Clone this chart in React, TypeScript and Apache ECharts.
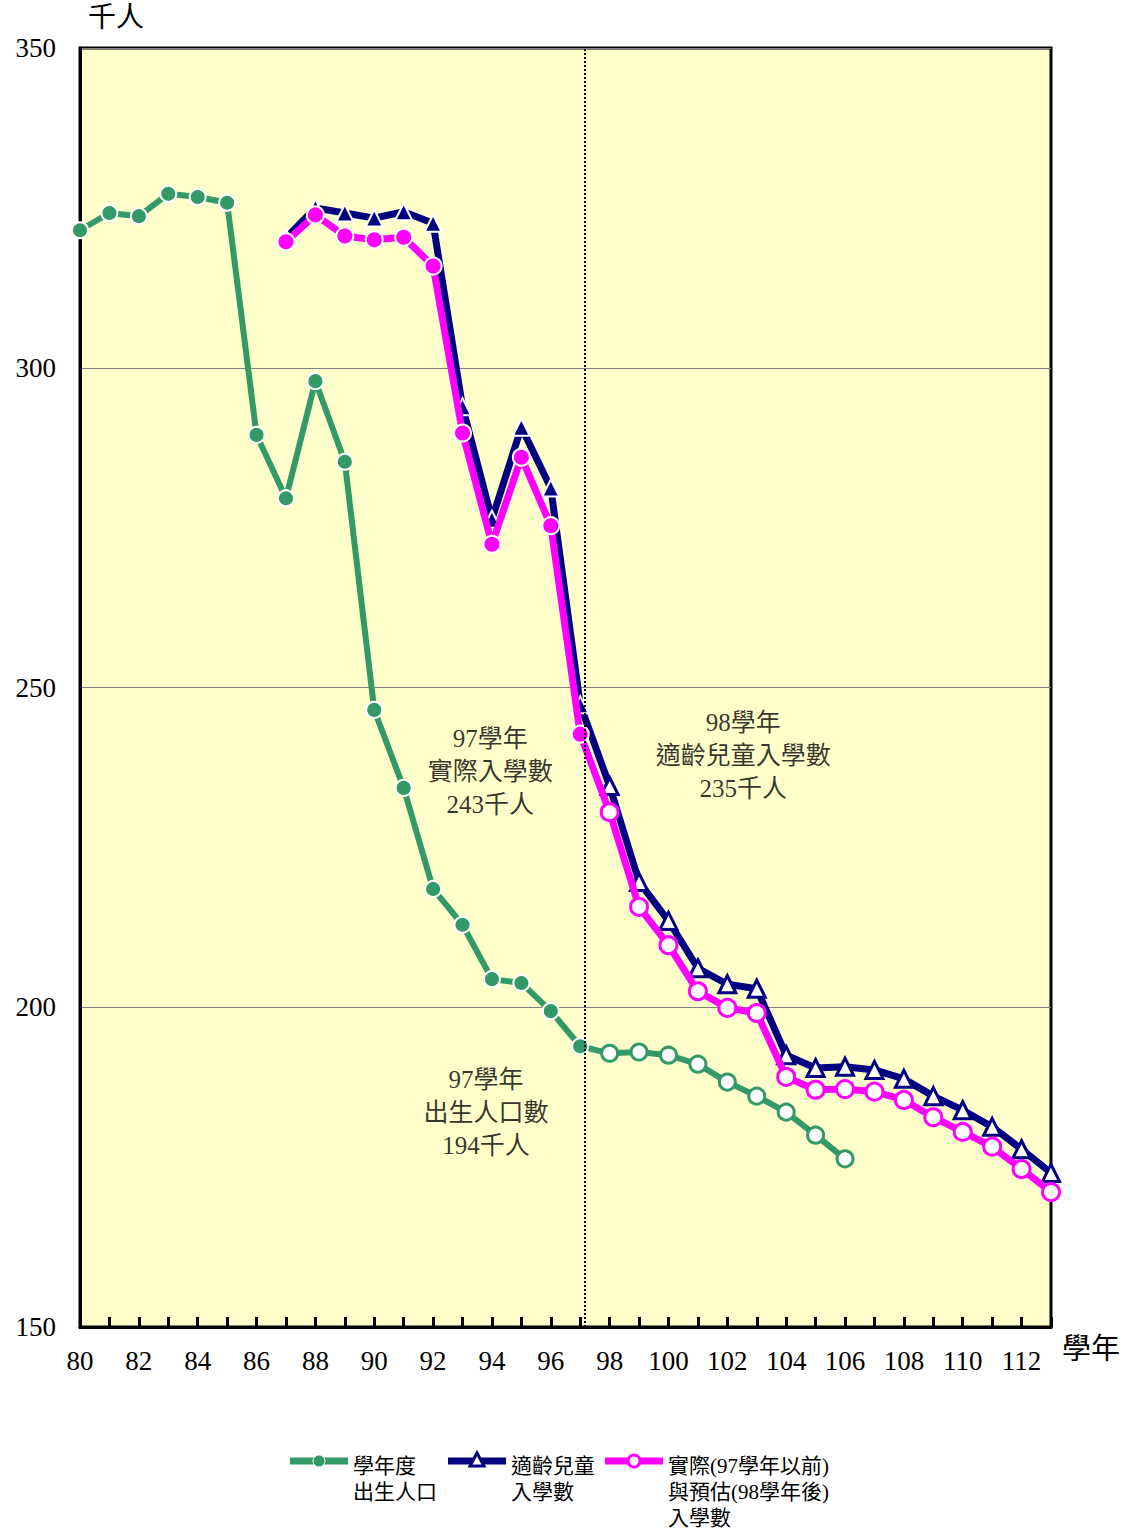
import React, { useEffect, useRef } from 'react';
import * as echarts from 'echarts';

const birthYears = [80, 81, 82, 83, 84, 85, 86, 87, 88, 89, 90, 91, 92, 93, 94, 95, 96, 97, 98, 99, 100, 101, 102, 103, 104, 105, 106];
const birthPop = [321.5, 324.2, 323.7, 327.2, 326.7, 325.8, 289.5, 279.6, 297.9, 285.3, 246.5, 234.3, 218.5, 212.9, 204.4, 203.8, 199.4, 193.9, 192.8, 193.0, 192.5, 191.1, 188.3, 186.1, 183.6, 180.0, 176.3];
const enrollYears = [87, 88, 89, 90, 91, 92, 93, 94, 95, 96, 97, 98, 99, 100, 101, 102, 103, 104, 105, 106, 107, 108, 109, 110, 111, 112, 113];
const ageEligible = [320.3, 325.0, 324.2, 323.4, 324.4, 322.6, 293.9, 276.3, 290.7, 281.2, 247.3, 234.6, 219.6, 213.5, 206.1, 203.6, 202.9, 192.5, 190.5, 190.7, 190.2, 188.8, 186.1, 183.9, 181.3, 177.8, 174.1];
const actualEnroll = [319.7, 323.9, 320.6, 320.0, 320.4, 315.9, 289.8, 272.4, 286.0, 275.3, 242.7, 230.5, 215.7, 209.7, 202.5, 199.9, 199.1, 189.1, 187.1, 187.2, 186.8, 185.5, 182.8, 180.5, 178.2, 174.7, 171.1];
const lastActualYear = 97;
const dividerYear = 97.17;

const seriesNames = ['學年度出生人口', '適齡兒童入學數', '實際與預估入學數'];
const legendLabels = [['學年度', '出生人口'], ['適齡兒童', '入學數'], ['實際(97學年以前)', '與預估(98學年後)', '入學數']];
const annotations = [
  { lines: ['97學年', '實際入學數', '243千人'], year: 93.94, value: 236.9 },
  { lines: ['98學年', '適齡兒童入學數', '235千人'], year: 102.54, value: 239.4 },
  { lines: ['97學年', '出生人口數', '194千人'], year: 93.8, value: 183.6 },
];

const GREEN = '#339966';
const NAVY = '#000080';
const MAGENTA = '#FF00FF';
const FONT = "'Liberation Serif', 'Noto Sans CJK TC', serif";

function points(xs: number[], ys: number[], color: string) {
  return xs.map((x, i) => ({
    value: [x, ys[i]],
    itemStyle: x <= lastActualYear
      ? { color, borderColor: '#ffffff', borderWidth: 2 }
      : { color: '#ffffff', borderColor: color, borderWidth: 3 },
  }));
}

export default function App() {
  const ref = useRef<HTMLDivElement>(null);
  useEffect(() => {
    if (!ref.current) return;
    const chart = echarts.init(ref.current, null, { renderer: 'svg' });
    const gridLeft = 80, gridTop = 48, gridRight = 80, gridBottom = 204;
    const legendItems = [
      { color: GREEN, x: 290, symbol: 'circle' },
      { color: NAVY, x: 448, symbol: 'triangle' },
      { color: MAGENTA, x: 605, symbol: 'circle' },
    ];
    const graphics: any[] = [];
    legendItems.forEach((it, i) => {
      const cy = 1461;
      graphics.push({ type: 'line', shape: { x1: it.x, y1: cy, x2: it.x + 58, y2: cy }, style: { stroke: it.color, lineWidth: 7 } });
      if (it.symbol === 'circle') {
        graphics.push({ type: 'circle', shape: { cx: it.x + 29, cy, r: 6 }, style: { fill: i === 2 ? '#fff' : it.color, stroke: i === 2 ? it.color : '#fff', lineWidth: i === 2 ? 3 : 1 } });
      } else {
        graphics.push({ type: 'polygon', shape: { points: [[it.x + 29, cy - 8], [it.x + 22, cy + 5], [it.x + 36, cy + 5]] }, style: { fill: '#fff', stroke: it.color, lineWidth: 3 } });
      }
      legendLabels[i].forEach((t, j) => {
        graphics.push({ type: 'text', x: it.x + 63, y: 1466 + j * 26, style: { text: t, font: `21px ${FONT}`, fill: '#000', textVerticalAlign: 'middle' } });
      });
    });
    graphics.push({ type: 'text', left: 88, top: 3, style: { text: '千人', font: `28px ${FONT}`, fill: '#000' } });
    graphics.push({ type: 'text', left: 1062, top: 1334, style: { text: '學年', font: `29px ${FONT}`, fill: '#000' } });

    chart.setOption({
      animation: false,
      backgroundColor: '#ffffff',
      grid: { left: gridLeft, top: gridTop, right: gridRight, bottom: gridBottom, show: true, backgroundColor: '#FFFFCC', borderColor: '#000', borderWidth: 3 },
      xAxis: {
        type: 'value', min: 80, max: 113, interval: 1,
        axisLine: { show: true, lineStyle: { color: '#000', width: 3 } },
        axisTick: { show: true, inside: true, length: 10, lineStyle: { color: '#000', width: 3 } },
        splitLine: { show: false },
        axisLabel: {
          margin: 20, fontSize: 27, fontFamily: FONT, color: '#000',
          formatter: (v: number) => (v % 2 === 0 && v <= 112 ? String(v) : ''),
        },
      },
      yAxis: {
        type: 'value', min: 150, max: 350, interval: 50,
        axisLine: { show: true, lineStyle: { color: '#000', width: 3 } },
        axisTick: { show: false },
        splitLine: { show: true, lineStyle: { color: '#808080', width: 1 } },
        axisLabel: { margin: 24, fontSize: 27, fontFamily: FONT, color: '#000' },
      },
      series: [
        {
          name: seriesNames[0], type: 'line', data: points(birthYears, birthPop, GREEN),
          symbol: 'circle', symbolSize: 16, lineStyle: { color: GREEN, width: 6 }, z: 2,
          markLine: {
            silent: true, symbol: 'none', label: { show: false },
            lineStyle: { color: '#000', type: 'dotted', width: 2 },
            data: [{ xAxis: dividerYear }],
          },
        },
        {
          name: seriesNames[1], type: 'line', data: points(enrollYears, ageEligible, NAVY),
          symbol: 'triangle', symbolSize: 17, lineStyle: { color: NAVY, width: 7 }, z: 3,
        },
        {
          name: seriesNames[2], type: 'line', data: points(enrollYears, actualEnroll, MAGENTA),
          symbol: 'circle', symbolSize: 17, lineStyle: { color: MAGENTA, width: 7 }, z: 4,
        },
        {
          type: 'scatter', symbolSize: 0, silent: true, z: 5,
          data: annotations.map(a => ({
            value: [a.year, a.value],
            label: {
              show: true, position: 'inside', formatter: a.lines.join('\n'),
              fontSize: 25, lineHeight: 33, fontFamily: FONT, color: '#000',
            },
          })),
        },
      ],
      graphic: graphics,
    });
    return () => chart.dispose();
  }, []);
  return <div ref={ref} style={{ position: 'absolute', left: 0, top: 0, width: 1131, height: 1531 }} />;
}
